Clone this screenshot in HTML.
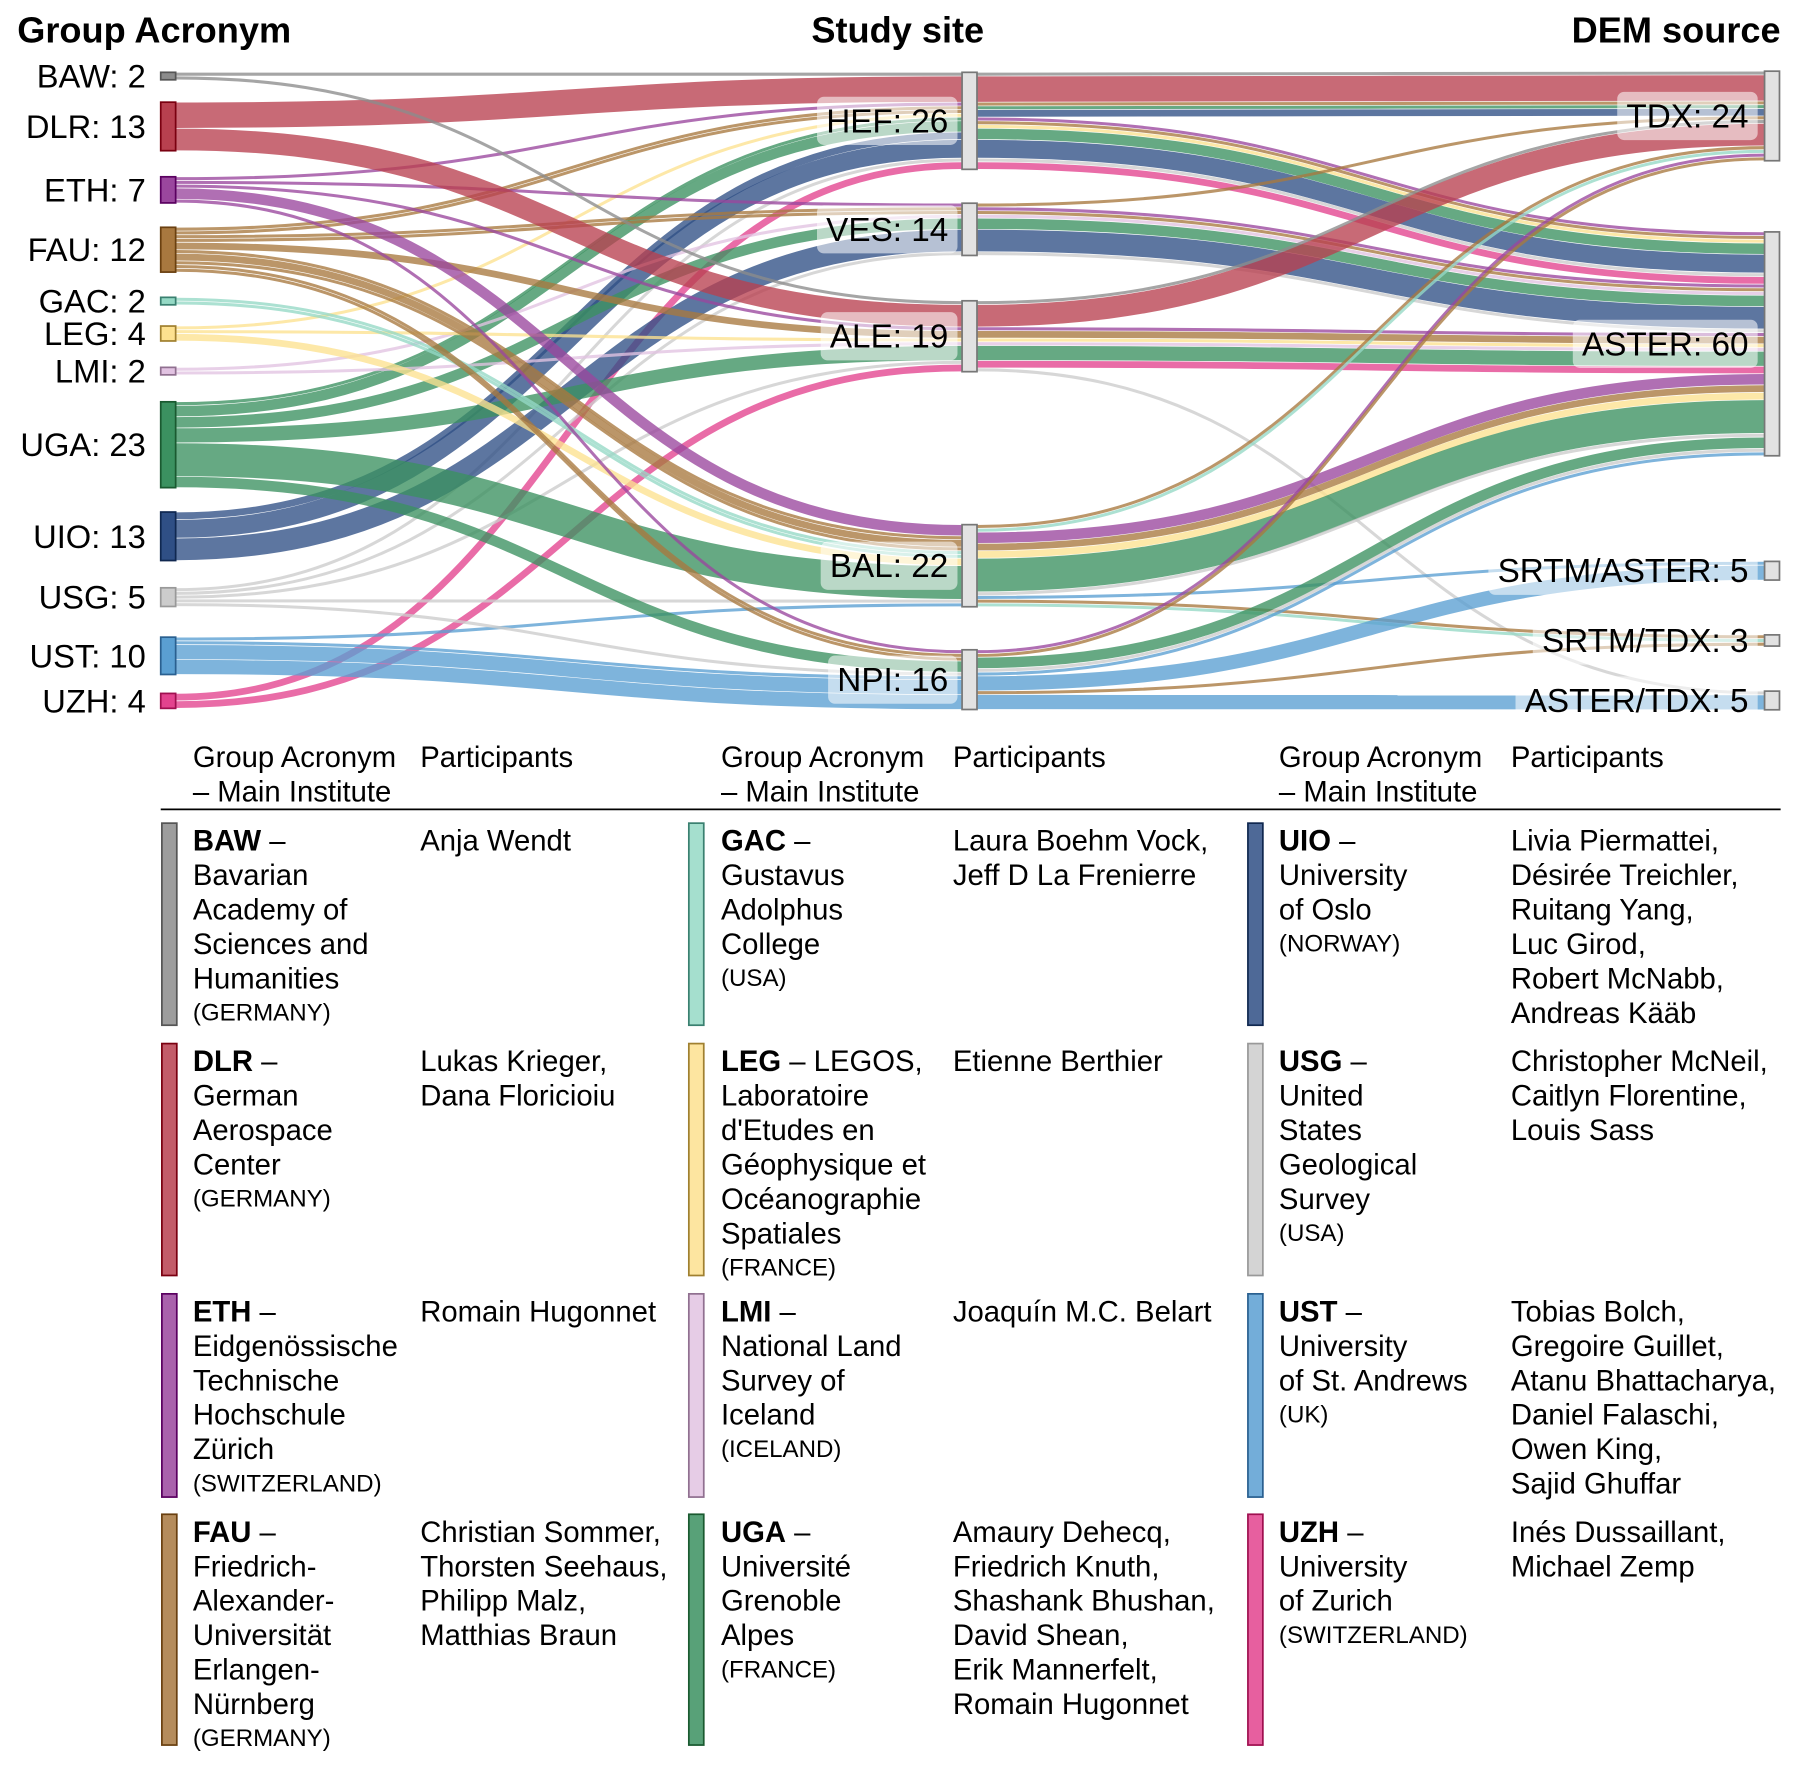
<!DOCTYPE html>
<html><head><meta charset="utf-8"><style>
html,body{margin:0;padding:0;background:#fff;}
svg{display:block;font-family:"Liberation Sans",Arial,sans-serif;}
</style></head><body>
<svg id="chart" width="1799" height="1767" viewBox="0 0 1567 1539" preserveAspectRatio="xMinYMin meet" xmlns="http://www.w3.org/2000/svg">
<rect x="0" y="0" width="1567" height="1539" fill="#fff"/>
<text x="15" y="37" font-size="31.5" font-weight="bold">Group Acronym</text>
<text x="782" y="37" font-size="31.5" font-weight="bold" text-anchor="middle">Study site</text>
<text x="1551" y="37" font-size="31.5" font-weight="bold" text-anchor="end">DEM source</text>
<g id="links"></g>
<g id="nodes"></g>
<g id="table" font-size="25.5"></g>
</svg>
<script>
const groups = ['BAW','DLR','ETH','FAU','GAC','LEG','LMI','UGA','UIO','USG','UST','UZH'];
const sites = ['HEF','VES','ALE','BAL','NPI'];
const dems = ['TDX','ASTER','SRTM/ASTER','SRTM/TDX','ASTER/TDX'];
const groupLabels = [2,13,7,12,2,4,2,23,13,5,10,4];
const siteLabels = [26,14,19,22,16];
const demLabels = [24,60,5,3,5];
// flows: group, site, dem, value
const flowGroup = ['DLR','BAW','UIO','UIO','UGA','UGA','FAU','FAU','LEG','ETH','UZH','USG',
 'ETH','FAU','FAU','LMI','UGA','UIO','USG',
 'DLR','BAW','ETH','FAU','LEG','LMI','UGA','UZH','USG',
 'ETH','FAU','FAU','FAU','GAC','GAC','LEG','UGA','USG','UST',
 'ETH','FAU','FAU','UGA','USG','UST','UST','UST'];
const flowSite = ['HEF','HEF','HEF','HEF','HEF','HEF','HEF','HEF','HEF','HEF','HEF','HEF',
 'VES','VES','VES','VES','VES','VES','VES',
 'ALE','ALE','ALE','ALE','ALE','ALE','ALE','ALE','ALE',
 'BAL','BAL','BAL','BAL','BAL','BAL','BAL','BAL','BAL','BAL',
 'NPI','NPI','NPI','NPI','NPI','NPI','NPI','NPI'];
const flowDem = ['TDX','TDX','TDX','ASTER','TDX','ASTER','TDX','ASTER','ASTER','ASTER','ASTER','ASTER',
 'ASTER','TDX','ASTER','ASTER','ASTER','ASTER','ASTER',
 'TDX','TDX','ASTER','ASTER','ASTER','ASTER','ASTER','ASTER','ASTER/TDX',
 'ASTER','TDX','ASTER','SRTM/TDX','TDX','SRTM/TDX','ASTER','ASTER','ASTER','SRTM/ASTER',
 'TDX','TDX','SRTM/TDX','ASTER','ASTER','SRTM/ASTER','ASTER/TDX','ASTER'];
const flowValue = [7,1,2,5,1,3,1,1,1,1,2,1,
 1,1,1,1,3,6,1,
 6,1,1,2,1,1,4,2,1,
 3,1,2,1,1,1,2,9,1,1,
 1,1,1,3,1,4,4,1];

// layout (not data)
const K = 3.25, NW = 13;
const colX = [140, 838, 1537];
const groupTopY = [63,89,154,198,259,284,320,350,446,512,555,604];
const siteTopY = [63,177,262,457,566];
const demTopY = [62,202,489,553,602];
const groupColor = {BAW:'#8c8c8c',DLR:'#b8404f',ETH:'#9a479e',FAU:'#a8783f',GAC:'#95d9c5',LEG:'#fde18f',LMI:'#e2c3e2',UGA:'#3b9160',UIO:'#2f4f85',USG:'#cccccc',UST:'#5a9fd2',UZH:'#e3438e'};
const groupStroke = {BAW:'#555',DLR:'#7a0010',ETH:'#5a0060',FAU:'#6a4010',GAC:'#3a8070',LEG:'#a08030',LMI:'#907090',UGA:'#1a5a30',UIO:'#102850',USG:'#999',UST:'#2a6090',UZH:'#a01050'};

const NS='http://www.w3.org/2000/svg';
const linksG=document.getElementById('links'), nodesG=document.getElementById('nodes'), tableG=document.getElementById('table');
function mk(tag, attrs, parent){const e=document.createElementNS(NS,tag);for(const k in attrs)e.setAttribute(k,attrs[k]);parent.appendChild(e);return e;}

const flows = flowValue.map((v,i)=>({g:groups.indexOf(flowGroup[i]),s:sites.indexOf(flowSite[i]),d:dems.indexOf(flowDem[i]),v:v,i:i}));
function cmp(a,b,keys){for(const k of keys){if(a[k]!==b[k])return a[k]-b[k];}return 0;}
function stack(keyNode, tops, order){
  const off = tops.slice(); const res={};
  const sorted = flows.slice().sort((a,b)=>cmp(a,b,[keyNode].concat(order)));
  sorted.forEach(f=>{res[f.i]=off[f[keyNode]]; off[f[keyNode]]+=f.v*K;});
  return res;
}
const gOut = stack('g', groupTopY, ['s','d']);
const sIn = stack('s', siteTopY, ['g','d']);
const sOut = stack('s', siteTopY, ['d','g']);
const dIn = stack('d', demTopY, ['s','g']);

function band(x0,y0,x1,y1,w,color,name){
  const xm=(x0+x1)/2, a=y0+w/2, b=y1+w/2;
  const p=mk('path',{d:`M${x0},${a} C${xm},${a} ${xm},${b} ${x1},${b}`,fill:'none',stroke:color,'stroke-width':Math.max(w-0.6,1),'stroke-opacity':0.78},linksG);
  
  
}
flows.forEach(f=>{
  const c=groupColor[groups[f.g]], w=f.v*K;
  band(colX[0]+NW,gOut[f.i],colX[1],sIn[f.i],w,c,'link-'+groups[f.g].toLowerCase()+'-'+sites[f.s].toLowerCase());
});
flows.forEach(f=>{
  const c=groupColor[groups[f.g]], w=f.v*K;
  band(colX[1]+NW,sOut[f.i],colX[2],dIn[f.i],w,c,'link-'+sites[f.s].toLowerCase()+'-'+dems[f.d].toLowerCase().replace('/','-'));
});

function totals(key,n){const t=new Array(n).fill(0);flows.forEach(f=>t[f[key]]+=f.v);return t;}
const gT=totals('g',groups.length), sT=totals('s',sites.length), dT=totals('d',dems.length);

groups.forEach((g,i)=>{
  const r=mk('rect',{x:colX[0],y:groupTopY[i],width:NW,height:gT[i]*K,fill:groupColor[g],stroke:groupStroke[g],'stroke-width':1.5},nodesG);
  
  
  const t=mk('text',{x:127,y:groupTopY[i]+gT[i]*K/2+10,'font-size':28.5,'text-anchor':'end'},nodesG);
  t.textContent=g+': '+groupLabels[i];
  
  
});
function grayNode(x,y,h,name,label,textRight){
  const r=mk('rect',{x:x,y:y,width:NW,height:h,fill:'#e2e2e2',stroke:'#777','stroke-width':1.5},nodesG);
  
  
  const cy=y+h/2;
  const t=mk('text',{x:textRight,y:cy+10,'font-size':29,'text-anchor':'end'},nodesG);
  t.textContent=label;
  
  
  const bb=t.getBBox();
  const bg=mk('rect',{x:bb.x-8,y:cy-21,width:bb.width+16,height:42,rx:6,fill:'#fff','fill-opacity':0.55},nodesG);
  
  
  nodesG.insertBefore(bg,t);
}
sites.forEach((s,i)=>grayNode(colX[1],siteTopY[i],sT[i]*K,s.toLowerCase(),s+': '+siteLabels[i],826));
dems.forEach((d,i)=>grayNode(colX[2],demTopY[i],dT[i]*K,d.toLowerCase().replace('/','-'),d+': '+demLabels[i],1523));

// table
const colBar=[141,600,1087], colText=[168,628,1114], colPart=[366,830,1316];
[0,1,2].forEach(c=>{
  let t=mk('text',{x:colText[c],y:668},tableG);t.textContent='Group Acronym';
  
  t=mk('text',{x:colText[c],y:698},tableG);t.textContent='– Main Institute';
  
  t=mk('text',{x:colPart[c],y:668},tableG);t.textContent='Participants';
  
});
const hl=mk('line',{x1:140,y1:705,x2:1551,y2:705,stroke:'#000','stroke-width':1.5},tableG);

const rowsY=[[717,893],[909,1111],[1127,1304],[1319,1520]];
const entries=[
 ['BAW',' –',['Bavarian','Academy of','Sciences and','Humanities'],'(GERMANY)',['Anja Wendt']],
 ['DLR',' –',['German','Aerospace','Center'],'(GERMANY)',['Lukas Krieger,','Dana Floricioiu']],
 ['ETH',' –',['Eidgenössische','Technische','Hochschule','Zürich'],'(SWITZERLAND)',['Romain Hugonnet']],
 ['FAU',' –',['Friedrich-','Alexander-','Universität','Erlangen-','Nürnberg'],'(GERMANY)',['Christian Sommer,','Thorsten Seehaus,','Philipp Malz,','Matthias Braun']],
 ['GAC',' –',['Gustavus','Adolphus','College'],'(USA)',['Laura Boehm Vock,','Jeff D La Frenierre']],
 ['LEG',' – LEGOS,',['Laboratoire','d\'Etudes en','Géophysique et','Océanographie','Spatiales'],'(FRANCE)',['Etienne Berthier']],
 ['LMI',' –',['National Land','Survey of','Iceland'],'(ICELAND)',['Joaquín M.C. Belart']],
 ['UGA',' –',['Université','Grenoble','Alpes'],'(FRANCE)',['Amaury Dehecq,','Friedrich Knuth,','Shashank Bhushan,','David Shean,','Erik Mannerfelt,','Romain Hugonnet']],
 ['UIO',' –',['University','of Oslo'],'(NORWAY)',['Livia Piermattei,','Désirée Treichler,','Ruitang Yang,','Luc Girod,','Robert McNabb,','Andreas Kääb']],
 ['USG',' –',['United','States','Geological','Survey'],'(USA)',['Christopher McNeil,','Caitlyn Florentine,','Louis Sass']],
 ['UST',' –',['University','of St. Andrews'],'(UK)',['Tobias Bolch,','Gregoire Guillet,','Atanu Bhattacharya,','Daniel Falaschi,','Owen King,','Sajid Ghuffar']],
 ['UZH',' –',['University','of Zurich'],'(SWITZERLAND)',['Inés Dussaillant,','Michael Zemp']]
];
entries.forEach((e,k)=>{
  const c=Math.floor(k/4), r=k%4, y0=rowsY[r][0];
  const bar=mk('rect',{x:colBar[c],y:rowsY[r][0],width:13,height:rowsY[r][1]-rowsY[r][0],fill:groupColor[e[0]],'fill-opacity':0.85,stroke:groupStroke[e[0]],'stroke-width':1.5},tableG);
  
  
  let y=y0+24;
  const t=mk('text',{x:colText[c],y:y},tableG);
  
  
  const b=mk('tspan',{'font-weight':'bold'},t);b.textContent=e[0];
  const rest=mk('tspan',{},t);rest.textContent=e[1];
  e[2].forEach(line=>{y+=30;const tt=mk('tspan',{x:colText[c],y:y},t);tt.textContent=line;});
  y+=28;const ct=mk('tspan',{x:colText[c],y:y,'font-size':21},t);ct.textContent=e[3];
  const p=mk('text',{x:colPart[c],y:y0+24},tableG);
  
  
  e[4].forEach((line,j)=>{const tt=mk('tspan',{x:colPart[c],y:y0+24+30*j},p);tt.textContent=line;});
});
</script>
</body></html>
